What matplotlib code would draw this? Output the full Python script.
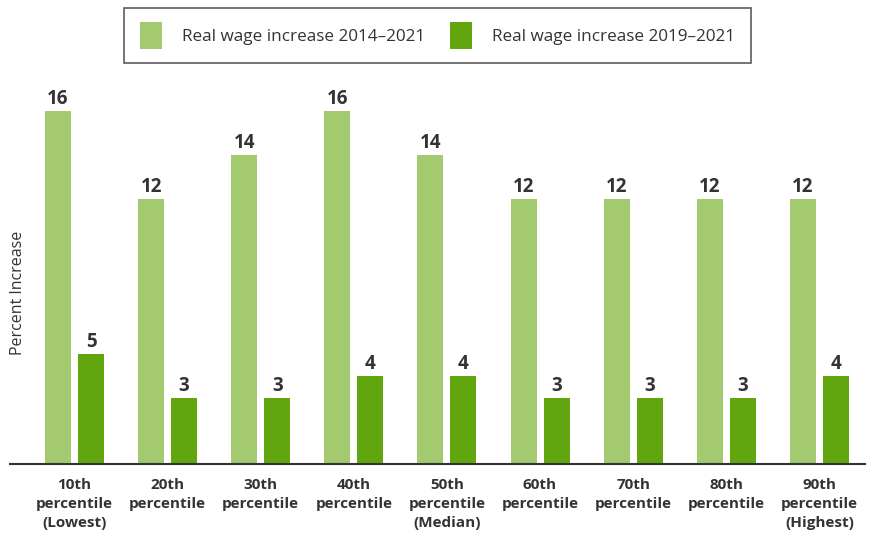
import matplotlib
matplotlib.use("Agg")
import matplotlib.pyplot as plt
import numpy as np
from matplotlib.patches import Patch

categories = ["10th\npercentile\n(Lowest)", "20th\npercentile", "30th\npercentile",
              "40th\npercentile", "50th\npercentile\n(Median)", "60th\npercentile",
              "70th\npercentile", "80th\npercentile", "90th\npercentile\n(Highest)"]
series_names = ["Real wage increase 2014\u20132021", "Real wage increase 2019\u20132021"]
wage_2014_2021 = [16, 12, 14, 16, 14, 12, 12, 12, 12]
wage_2019_2021 = [5, 3, 3, 4, 4, 3, 3, 3, 4]

light = "#a3ca6f"
dark = "#62a60f"
txt = "#333333"

plt.rcParams['font.family'] = ['Open Sans', 'DejaVu Sans']

fig = plt.figure(figsize=(8.7, 5.38), dpi=100)
ax = fig.add_axes([10/870, 74/538, 855/870, 404/538])

x = np.arange(len(categories))
w = 0.279
off = 0.177
b1 = ax.bar(x - off, wage_2014_2021, w, color=light)
b2 = ax.bar(x + off, wage_2019_2021, w, color=dark)

for bars, vals in ((b1, wage_2014_2021), (b2, wage_2019_2021)):
    for r, v in zip(bars, vals):
        ax.text(r.get_x() + r.get_width()/2, v + 0.08, str(v), ha='center', va='bottom',
                fontsize=13.5, fontweight='bold', color=txt)

ax.set_xlim(-0.693, 8.49)
ax.set_ylim(0, 18.31)
for s in ['top', 'right', 'left']:
    ax.spines[s].set_visible(False)
ax.spines['bottom'].set_color(txt)
ax.spines['bottom'].set_linewidth(1.5)
ax.set_yticks([])
ax.set_xticks(x)
ax.set_xticklabels(categories, fontsize=11, fontweight='bold', color=txt, linespacing=1.45)
ax.tick_params(axis='x', length=0, pad=10)

fig.text(18/870, 1 - 293/538, "Percent Increase", rotation=90, ha='center', va='center',
         fontsize=11.5, color=txt)

handles = [Patch(facecolor=light, edgecolor='none'), Patch(facecolor=dark, edgecolor='none')]
leg = fig.legend(handles, series_names, loc='center', bbox_to_anchor=(437.5/870, 1 - 35.5/538),
                 ncol=2, frameon=True, fancybox=False, edgecolor=txt, fontsize=12.3,
                 handlelength=1.29, handleheight=1.64, handletextpad=1.17, columnspacing=1.4,
                 borderpad=0.95, borderaxespad=0)
leg.get_frame().set_linewidth(1.2)
for t in leg.get_texts():
    t.set_color(txt)
for p in leg.get_patches():
    p.set_height(p.get_height() * 1.25)
    p.set_y(p.get_y() - p.get_height() * 0.1)

fig.savefig("out.png", dpi=100)
